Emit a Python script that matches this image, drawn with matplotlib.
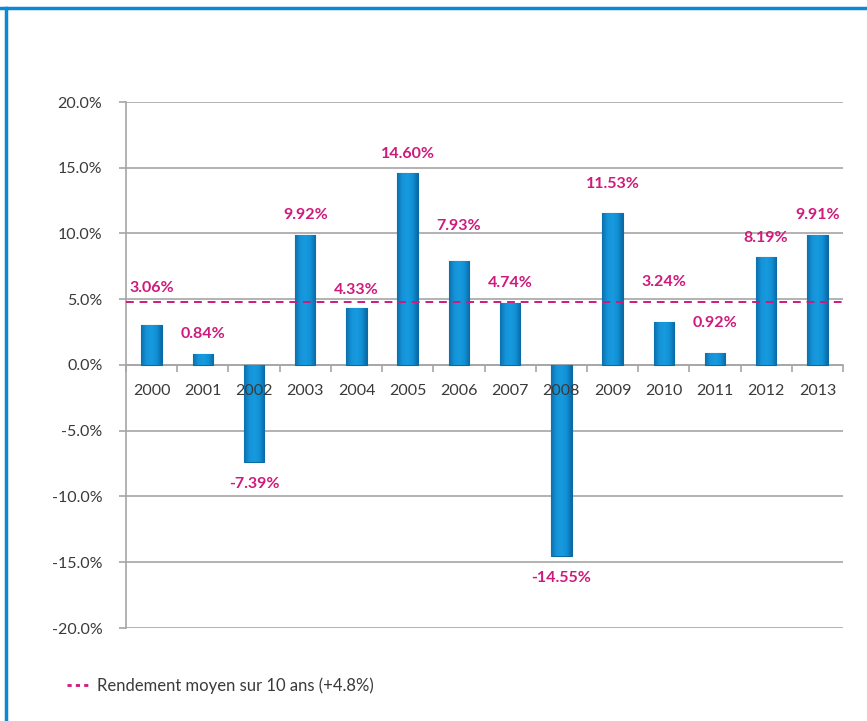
import matplotlib.pyplot as plt
from matplotlib.lines import Line2D
from matplotlib.colors import LinearSegmentedColormap
from matplotlib.ticker import FuncFormatter, MultipleLocator
import numpy as np

# rendements annuels
years = ['2000', '2001', '2002', '2003', '2004', '2005', '2006',
         '2007', '2008', '2009', '2010', '2011', '2012', '2013']
returns = [3.06, 0.84, -7.39, 9.92, 4.33, 14.60, 7.93,
           4.74, -14.55, 11.53, 3.24, 0.92, 8.19, 9.91]
avg_return = 4.8
legend_label = 'Rendement moyen sur 10 ans (+4.8%)'

# distance (px) between bar end and its label, as placed in the original
label_gap = [37, 20, 22, 20, 18, 19, 35, 20, 22, 29, 40, 30, 19, 20]

plt.rcParams['font.family'] = ['Lato', 'DejaVu Sans']

pink = '#cf1a7c'
grid_col = '#a6a6a6'
txt_col = '#3a3a3a'

fig = plt.figure(figsize=(8.67, 7.21), dpi=100)
ax = fig.add_axes([126 / 867, 1 - 628 / 721, 717 / 867, 526 / 721])

x = np.arange(len(years))
bars = ax.bar(x, returns, width=0.4, color='#0e8bd0', edgecolor='#0a6aa3',
              linewidth=0.8, zorder=3)

# horizontal shading on the bars (darker sides, lighter middle)
cmap = LinearSegmentedColormap.from_list(
    'barshade', ['#0b6fae', '#1593d8', '#189ade', '#1190d5', '#0a6aa6'])
grad = np.linspace(0, 1, 64).reshape(1, -1)
for b in bars:
    x0, y0 = b.get_x(), b.get_y()
    w, h = b.get_width(), b.get_height()
    im = ax.imshow(grad, cmap=cmap, aspect='auto', zorder=3.1,
                   extent=[x0, x0 + w, min(y0, y0 + h), max(y0, y0 + h)])
    im.set_clip_path(b)

ax.axhline(avg_return, color=pink, ls=(0, (4, 3)), lw=1.4, zorder=4)

for xi, v, gap in zip(x, returns, label_gap):
    off = gap if v >= 0 else -gap
    ax.annotate(f'{v:.2f}%', (xi, v), xytext=(0, off * 0.72),
                textcoords='offset points', ha='center', va='center',
                color=pink, fontsize=11.5, fontweight='bold', zorder=5)

ax.set_xlim(-0.5, len(years) - 0.5)
ax.set_ylim(-20, 20)
ax.yaxis.set_major_locator(MultipleLocator(5))
ax.yaxis.set_major_formatter(FuncFormatter(lambda v, p: f'{v:.1f}%'))
for gy in np.arange(-20, 21, 5):
    ax.axhline(gy, color=grid_col, lw=1.2, zorder=0)

for s in ['top', 'right']:
    ax.spines[s].set_visible(False)
ax.spines['bottom'].set_position(('data', 0))
ax.spines['bottom'].set_color(grid_col)
ax.spines['bottom'].set_linewidth(1.2)
ax.spines['bottom'].set_zorder(1)
ax.spines['left'].set_color(grid_col)
ax.spines['left'].set_linewidth(1.2)
ax.spines['left'].set_zorder(1)
ax.xaxis.set_zorder(6)

ax.set_xticks(x)
ax.set_xticklabels(years)
ax.set_xticks(np.arange(len(years) + 1) - 0.5, minor=True)
ax.tick_params(axis='x', which='major', length=0, pad=14, labelsize=11.5,
               labelcolor=txt_col)
ax.tick_params(axis='x', which='minor', length=5, color=grid_col, width=1.2)
ax.tick_params(axis='y', length=5, color=grid_col, width=1.2, pad=12,
               labelsize=11.5, labelcolor=txt_col)

handle = Line2D([], [], color=pink, ls=(0, (1.5, 1.5)), lw=2)
fig.legend([handle], [legend_label], loc='center left',
           bbox_to_anchor=(52 / 867, 1 - 686 / 721), frameon=False,
           fontsize=12, handlelength=1.3, handletextpad=0.5,
           labelcolor=txt_col)

# blue frame
fig.add_artist(Line2D([0, 1], [1 - 7.5 / 721] * 2, color='#0a8ad2', lw=2.5))
fig.add_artist(Line2D([5.5 / 867] * 2, [0, 1 - 7.5 / 721], color='#0a8ad2', lw=2.5))

fig.savefig('out.png', dpi=100)
